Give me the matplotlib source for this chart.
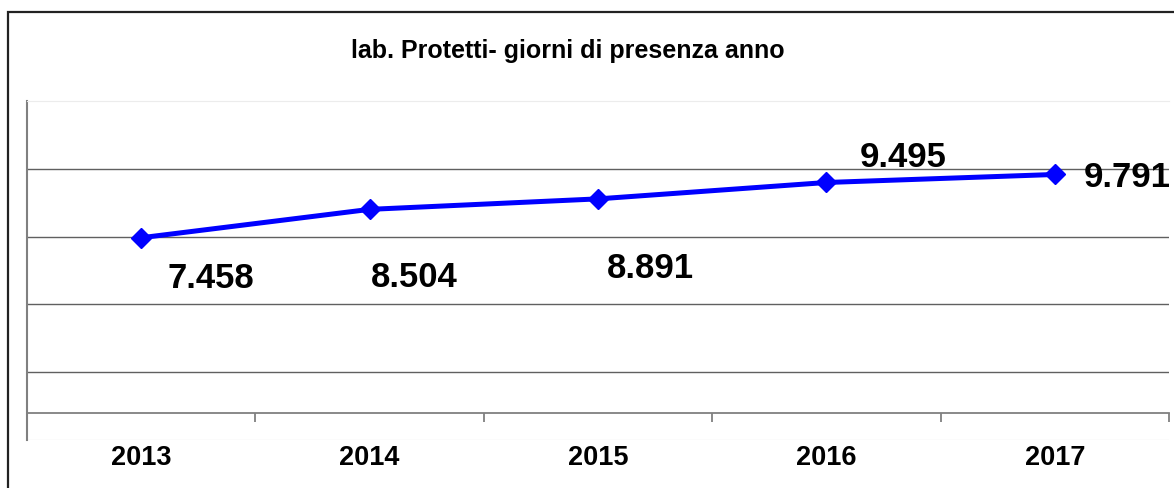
import matplotlib
matplotlib.use("Agg")
import matplotlib.pyplot as plt
from matplotlib.patches import Rectangle

plt.rcParams['font.family'] = ['Liberation Sans', 'DejaVu Sans']

# dati
anni = ['2013', '2014', '2015', '2016', '2017']
giorni = [7458, 8504, 8891, 9495, 9791]
etichette = ['7.458', '8.504', '8.891', '9.495', '9.791']
titolo = 'lab. Protetti- giorni di presenza anno'

# spostamento manuale delle etichette (punti)
offset_etichette = [(50, -36), (32, -56), (38, -57), (55, 11), (52, -9)]

W, H = 1174, 488
fig = plt.figure(figsize=(W / 100, H / 100), dpi=100)
fig.patch.set_facecolor('white')

# cornice esterna (solo lati sinistro e superiore visibili)
fig.add_artist(Rectangle((8 / W, -0.2), 1.2, (H - 12) / H + 0.2,
                         transform=fig.transFigure, fill=False,
                         edgecolor='#222222', linewidth=1.6))

ax = fig.add_axes([27 / W, (H - 440) / H, 1142 / W, 339 / H])
x = list(range(len(anni)))
ax.plot(x, giorni, color='#0000FF', linewidth=3.6, marker='D',
        markersize=10.5, markeredgecolor='#0000FF', zorder=3)

ax.set_xlim(-0.5, len(anni) - 0.5)
ax.set_ylim(0, 12500)

# griglia orizzontale
ax.set_yticks([2500, 5000, 7500, 10000])
ax.yaxis.grid(True, color='#606060', linewidth=1.0)
ax.tick_params(axis='y', left=False, labelleft=False)

# asse categorie che incrocia a 1000
ax.spines['bottom'].set_position(('data', 1000))
ax.spines['bottom'].set_color('#808080')
ax.spines['bottom'].set_linewidth(1.3)
ax.spines['left'].set_color('#808080')
ax.spines['left'].set_linewidth(1.5)
ax.spines['top'].set_color('#ececec')
ax.spines['right'].set_visible(False)
ax.axhline(0, color='#ececec', linewidth=1.0)

ax.set_xticks(x)
ax.set_xticklabels(anni, fontsize=19.5, fontweight='bold')
ax.set_xticks([i - 0.5 for i in range(len(anni) + 1)], minor=True)
ax.tick_params(axis='x', which='major', length=0, pad=23)
ax.tick_params(axis='x', which='minor', length=6.5, width=1.3,
               color='#808080', direction='out')

for xi, yi, lab, off in zip(x, giorni, etichette, offset_etichette):
    ax.annotate(lab, (xi, yi), xytext=off, textcoords='offset points',
                ha='center', va='baseline', fontsize=25, fontweight='bold',
                annotation_clip=False)

fig.text(568 / W, (H - 58) / H, titolo, ha='center', va='baseline',
         fontsize=18, fontweight='bold')

fig.savefig('out.png', dpi=100, facecolor='white')
